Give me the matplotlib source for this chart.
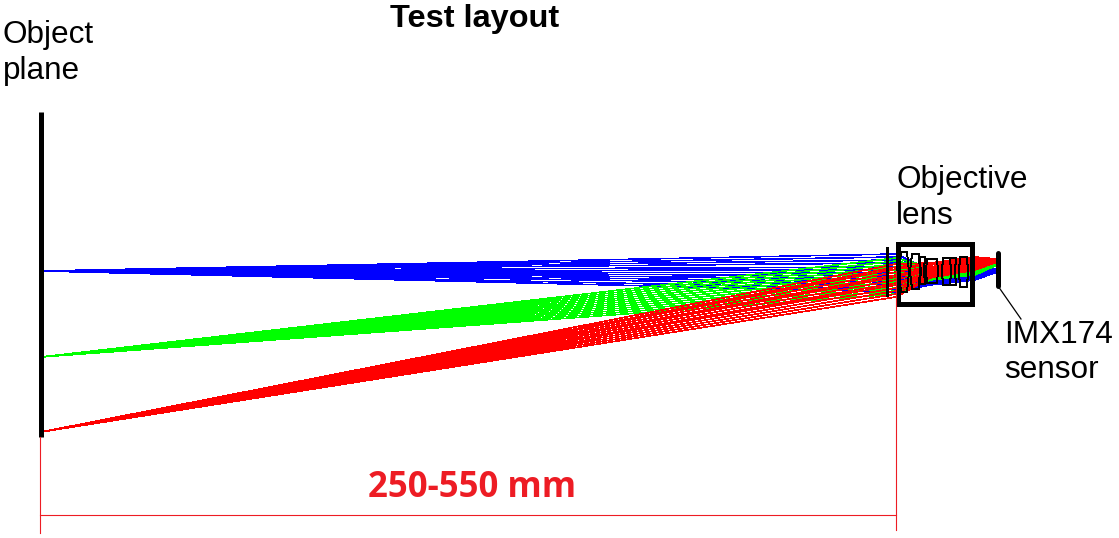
import matplotlib
matplotlib.use("Agg")
import matplotlib.pyplot as plt
from matplotlib.patches import Rectangle, Polygon

plt.rcParams['font.family'] = ['Liberation Sans', 'DejaVu Sans']

W, H = 1119, 538

# Optical stations (x positions, in picture pixels)
station_x = [41, 896, 930, 975, 997]

# Object heights of the three field points
object_y = {'blue': 271, 'lime': 357, 'red': 432}

# Ray heights at each station after the object plane
blue_entry = [254, 257, 260, 263, 267, 270, 273, 276, 279, 282, 285, 289, 292]
blue_mid   = [270, 271, 272, 274, 275, 276, 277, 278, 280, 281, 282, 284, 285]
blue_exit  = [270, 271, 272, 273, 273, 274, 275, 276, 277, 277, 278, 279, 280]
blue_sens  = [269, 269, 270, 270, 270, 271, 271, 271, 271, 272, 272, 272, 272]

lime_entry = [258, 261, 264, 267, 270, 273, 276, 279, 282, 285, 288, 291, 294]
lime_mid   = [267, 268, 269, 270, 271, 272, 273, 274, 275, 276, 277, 279, 280]
lime_exit  = [263, 264, 265, 266, 267, 268, 269, 270, 271, 272, 273, 274, 275]
lime_sens  = [263, 263, 263, 264, 264, 264, 264, 264, 265, 265, 265, 265, 265]

red_entry = [264, 267, 269, 272, 275, 277, 280, 283, 285, 288, 291, 294, 297]
red_mid   = [263, 264, 265, 267, 268, 269, 270, 272, 273, 274, 275, 277, 278]
red_exit  = [257, 258, 259, 260, 261, 262, 263, 264, 265, 266, 268, 269, 270]
red_sens  = [259, 259, 259, 260, 260, 260, 260, 261, 261, 261, 261, 262, 262]

fans = [
    ('#0000ff', object_y['blue'], blue_entry, blue_mid, blue_exit, blue_sens),
    ('#00ff00', object_y['lime'], lime_entry, lime_mid, lime_exit, lime_sens),
    ('#ff0000', object_y['red'], red_entry, red_mid, red_exit, red_sens),
]

# Lens element outlines: (x left, x right, y top, y bottom, face bow)
lens_elements = [
    (901, 907, 252, 292, 2), (912, 919, 254, 289, 2),
    (919, 925, 257, 284, -1), (927, 937, 259, 283, 1),
    (943, 950, 258, 285, 1), (950, 956, 258, 285, -1),
    (960, 967, 257, 287, 1),
]

fig = plt.figure(figsize=(W / 100, H / 100), dpi=100)
ax = fig.add_axes([0, 0, 1, 1])
ax.set_xlim(0, W)
ax.set_ylim(H, 0)
ax.axis('off')

for colour, y0, entry, mid, exit_, sens in fans:
    for i in range(len(entry)):
        ax.plot(station_x, [y0, entry[i], mid[i], exit_[i], sens[i]],
                color=colour, lw=0.45, antialiased=False, zorder=2,
                solid_joinstyle='miter')

# Lens elements
for x0, x1, y0, y1, bow in lens_elements:
    ym = (y0 + y1) / 2
    pts = [(x0, y0), (x1, y0), (x1 + bow, ym), (x1, y1), (x0, y1), (x0 - bow, ym)]
    ax.add_patch(Polygon(pts, closed=True, fill=False, ec='black', lw=0.7,
                         antialiased=False, zorder=3))

# Thin stop line ahead of the lens
ax.plot([887, 887], [248, 295], color='black', lw=1.0, antialiased=False, zorder=4)

# Object plane
ax.plot([41, 41], [112, 437], color='black', lw=3.6, solid_capstyle='butt', zorder=5)

# Lens box
ax.add_patch(Rectangle((897.5, 243.5), 74, 60, fill=False, ec='black', lw=3.6,
                       joinstyle='miter', zorder=5))

# Sensor
ax.plot([997.5, 997.5], [253, 286], color='black', lw=3.6, solid_capstyle='round', zorder=5)
ax.plot([998, 1021], [286, 319], color='black', lw=0.9, zorder=5)

# Dimension lines
dim = '#ed1c24'
ax.plot([40, 40], [437, 533], color=dim, lw=0.8, zorder=6)
ax.plot([896, 896], [271, 530], color=dim, lw=0.8, zorder=6)
ax.plot([40, 896], [515, 515], color=dim, lw=0.8, zorder=6)

# Text
fs = 22.7
ax.text(475, 19, 'Test layout', ha='center', va='center', fontsize=23.4, fontweight='bold', color='black')
ax.text(3, 35, 'Object', ha='left', va='center', fontsize=fs)
ax.text(3, 71, 'plane', ha='left', va='center', fontsize=fs)
ax.text(896, 180, 'Objective', ha='left', va='center', fontsize=fs)
ax.text(896, 216, 'lens', ha='left', va='center', fontsize=fs)
ax.text(1004, 335, 'IMX174', ha='left', va='center', fontsize=fs)
ax.text(1004, 370, 'sensor', ha='left', va='center', fontsize=fs)
ax.text(472, 488, '250-550 mm', ha='center', va='center', fontsize=25, fontweight='bold',
        color=dim, family=['Open Sans', 'DejaVu Sans'])

fig.savefig('out.png', dpi=100, facecolor='white')
